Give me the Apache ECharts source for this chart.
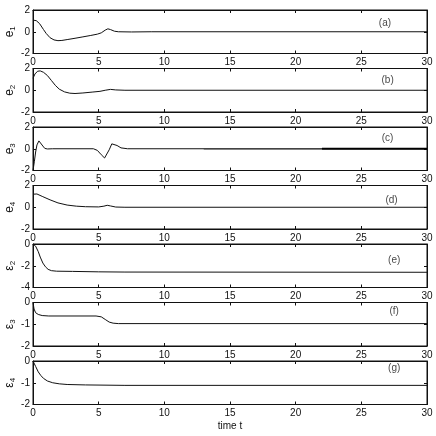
<!DOCTYPE html>
<html>
<head>
<meta charset="utf-8">
<script src="https://cdn.jsdelivr.net/npm/echarts@6/dist/echarts.min.js"></script>
<style>
  html, body { margin: 0; padding: 0; background: #fff; }
  #chart { width: 436px; height: 436px; }
</style>
</head>
<body>
<div id="chart"></div>
<script>
// 曲线数据 [t, value]
const e1 = [[0,1.07],[0.25,1.02],[0.5,0.75],[0.8,0.2],[1.0,-0.15],[1.3,-0.55],[1.6,-0.75],[1.9,-0.82],[2.2,-0.8],[2.6,-0.72],[3.2,-0.6],[3.8,-0.47],[4.4,-0.34],[4.9,-0.22],[5.2,-0.1],[5.5,0.15],[5.7,0.27],[5.9,0.2],[6.2,0.05],[6.5,0.0],[7.5,-0.02],[9,0],[30,0]]
const e2 = [[0,1.1],[0.15,1.5],[0.35,1.75],[0.55,1.78],[0.8,1.65],[1.1,1.35],[1.4,0.9],[1.7,0.45],[2.0,0.1],[2.4,-0.15],[2.8,-0.27],[3.2,-0.3],[3.8,-0.25],[4.5,-0.17],[5.1,-0.1],[5.5,0.0],[5.9,0.08],[6.3,0.03],[7,0],[30,0]]
const e3 = [[0,-2],[0.1,-1.2],[0.2,-0.3],[0.3,0.35],[0.45,0.72],[0.6,0.6],[0.75,0.25],[0.9,0.03],[1.1,-0.02],[1.5,0],[4.6,0],[4.9,-0.15],[5.2,-0.55],[5.45,-0.85],[5.6,-0.75],[5.8,-0.1],[6.0,0.45],[6.15,0.5],[6.4,0.3],[6.7,0.08],[7.2,0],[30,0]]
const e4 = [[0,1.2],[0.3,1.22],[0.7,1.0],[1.3,0.68],[1.9,0.4],[2.6,0.2],[3.3,0.1],[4,0.05],[5,0.03],[5.4,0.1],[5.65,0.18],[5.9,0.12],[6.3,0.02],[7,0],[30,0]]
const eps2 = [[0,0],[0.2,-0.2],[0.4,-0.7],[0.55,-1.2],[0.75,-1.75],[0.95,-2.1],[1.15,-2.33],[1.4,-2.45],[1.8,-2.5],[3,-2.52],[5,-2.56],[7,-2.58],[30,-2.6]]
const eps3 = [[0,0],[0.08,-0.3],[0.2,-0.47],[0.4,-0.55],[0.7,-0.6],[1.2,-0.62],[4.8,-0.62],[5.2,-0.66],[5.5,-0.78],[5.8,-0.9],[6.1,-0.95],[6.5,-0.97],[30,-0.97]]
const eps4 = [[0,0],[0.2,-0.25],[0.4,-0.5],[0.6,-0.67],[0.8,-0.8],[1.1,-0.92],[1.5,-1.0],[2.0,-1.05],[2.6,-1.08],[4,-1.1],[7,-1.12],[30,-1.12]]
// e3 后段抖振（粗线段）
const e3RippleWeak = [[13,0],[22,0]]
const e3RippleStrong = [[22,0],[30,0]]

const curves = [e1, e2, e3, e4, eps2, eps3, eps4]
const yNames = ['{n|e}{s|1}', '{n|e}{s|2}', '{n|e}{s|3}', '{n|e}{s|4}', '{n|ε}{s|2}', '{n|ε}{s|3}', '{n|ε}{s|4}']
const yMin = [-2, -2, -2, -2, -4, -2, -2]
const yMax = [2, 2, 2, 2, 0, 0, 0]
const yStep = [2, 2, 2, 2, 2, 1, 1]
const tagText = ['(a)', '(b)', '(c)', '(d)', '(e)', '(f)', '(g)']
const tagT = [26.8, 27.0, 27.0, 27.3, 27.5, 27.5, 27.5]
const tagV = [0.79, 0.88, 0.98, 0.65, -1.45, -0.42, -0.33]
const xTicks = { min: 0, max: 30, interval: 5 }

const FONT = "'Liberation Sans', Arial, sans-serif"
const INK = '#111'

const chart = echarts.init(document.getElementById('chart'))

const grids = []
const xAxes = []
const yAxes = []
const series = []

curves.forEach((data, i) => {
  grids.push({
    left: 33, right: 9, top: 10 + i * 58.5, height: 43.5,
    containLabel: false, outerBoundsMode: 'none',
    show: true, borderColor: INK, borderWidth: 1, backgroundColor: 'transparent'
  })
  const xBase = {
    gridIndex: i, type: 'value', ...xTicks,
    axisLine: { show: true, onZero: false, lineStyle: { color: INK, width: 1 } },
    axisTick: { show: true, inside: true, length: 3, lineStyle: { color: INK } },
    splitLine: { show: false }
  }
  xAxes.push({
    ...xBase, position: 'bottom',
    axisLabel: { show: true, margin: 4, fontSize: 10, color: INK, fontFamily: FONT },
    name: i === curves.length - 1 ? 'time t' : '',
    nameLocation: 'middle', nameGap: 17, nameMoveOverlap: false,
    nameTextStyle: { fontSize: 10, color: INK, fontFamily: FONT }
  })
  xAxes.push({ ...xBase, position: 'top', axisLabel: { show: false } })

  const yBase = {
    gridIndex: i, type: 'value', min: yMin[i], max: yMax[i], interval: yStep[i],
    axisLine: { show: true, onZero: false, lineStyle: { color: INK, width: 1 } },
    axisTick: { show: true, inside: true, length: 3, lineStyle: { color: INK } },
    splitLine: { show: false }
  }
  yAxes.push({
    ...yBase, position: 'left',
    axisLabel: { show: true, margin: 3, fontSize: 10, color: INK, fontFamily: FONT },
    name: yNames[i], nameLocation: 'middle', nameRotate: 90, nameGap: 16,
    nameMoveOverlap: false,
    nameTextStyle: {
      color: INK, fontFamily: FONT,
      rich: {
        n: { fontSize: 12, color: INK, fontFamily: FONT },
        s: { fontSize: 8, color: INK, fontFamily: FONT, padding: [6, 0, 0, 0] }
      }
    }
  })
  yAxes.push({ ...yBase, position: 'right', axisLabel: { show: false } })

  series.push({
    type: 'line', xAxisIndex: 2 * i, yAxisIndex: 2 * i,
    data: data, showSymbol: false, symbol: 'none',
    lineStyle: { color: INK, width: 1 }, animation: false
  })
  // 面板标注 (a)-(g)
  series.push({
    type: 'scatter', xAxisIndex: 2 * i, yAxisIndex: 2 * i,
    data: [[tagT[i], tagV[i]]], symbolSize: 0, silent: true,
    label: {
      show: true, position: 'inside', formatter: tagText[i],
      fontSize: 10, color: INK, fontFamily: FONT
    },
    animation: false
  })
})

series.push({
  type: 'line', xAxisIndex: 4, yAxisIndex: 4, data: e3RippleWeak,
  showSymbol: false, symbol: 'none', lineStyle: { color: '#444', width: 1.4 }, animation: false
})
series.push({
  type: 'line', xAxisIndex: 4, yAxisIndex: 4, data: e3RippleStrong,
  showSymbol: false, symbol: 'none', lineStyle: { color: '#000', width: 2.2 }, animation: false
})

chart.setOption({
  animation: false,
  backgroundColor: '#fff',
  grid: grids,
  xAxis: xAxes,
  yAxis: yAxes,
  series: series
})
</script>
</body>
</html>
